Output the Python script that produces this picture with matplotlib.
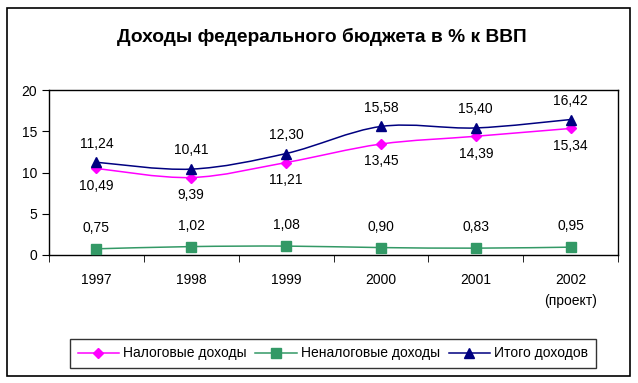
import matplotlib.pyplot as plt
from matplotlib.path import Path
from matplotlib.patches import PathPatch, Rectangle
from matplotlib.lines import Line2D

plt.rcParams['font.family'] = ['Liberation Sans', 'DejaVu Sans']

years = ['1997', '1998', '1999', '2000', '2001', '2002\n(проект)']
tax = [10.49, 9.39, 11.21, 13.45, 14.39, 15.34]
nontax = [0.75, 1.02, 1.08, 0.90, 0.83, 0.95]
total = [11.24, 10.41, 12.30, 15.58, 15.40, 16.42]


def smooth_path(xs, ys):
    # Bezier curve through the points, like Excel's smoothed line
    pts = list(zip(xs, ys))
    n = len(pts)
    verts = [pts[0]]
    codes = [Path.MOVETO]
    for i in range(n - 1):
        p0 = pts[max(i - 1, 0)]
        p1 = pts[i]
        p2 = pts[i + 1]
        p3 = pts[min(i + 2, n - 1)]
        c1 = (p1[0] + (p2[0] - p0[0]) / 6, p1[1] + (p2[1] - p0[1]) / 6)
        c2 = (p2[0] - (p3[0] - p1[0]) / 6, p2[1] - (p3[1] - p1[1]) / 6)
        verts += [c1, c2, p2]
        codes += [Path.CURVE4] * 3
    return Path(verts, codes)


fig = plt.figure(figsize=(6.38, 3.83), dpi=100)
ax = fig.add_axes([49 / 638, 1 - 255 / 383, (618 - 49) / 638, (255 - 90) / 383])

x = list(range(len(years)))
series = [
    (tax, 'Налоговые доходы', '#FF00FF', 'D', 5, -12.5),
    (nontax, 'Неналоговые доходы', '#339966', 's', 7, 15),
    (total, 'Итого доходов', '#000080', '^', 7, 13.5),
]
handles = []
for vals, name, col, mk, ms, off in series:
    ax.add_patch(PathPatch(smooth_path(x, vals), fill=False, edgecolor=col, lw=1.1))
    ax.plot(x, vals, linestyle='none', marker=mk, color=col, markersize=ms, zorder=3)
    for xi, v in zip(x, vals):
        ax.annotate(f'{v:.2f}'.replace('.', ','), (xi, v), xytext=(0, off),
                    textcoords='offset points', ha='center', va='center', fontsize=10)
    handles.append(Line2D([], [], color=col, marker=mk, markersize=ms, lw=1.1))

ax.set_xlim(-0.5, 5.5)
ax.set_ylim(0, 20)
ax.set_yticks([0, 5, 10, 15, 20])
ax.set_xticks(x)
ax.set_xticklabels(years, linespacing=1.6)
ax.set_xticks([i - 0.5 for i in range(len(years) + 1)], minor=True)
ax.tick_params(axis='x', which='major', length=0, pad=13, labelsize=10)
ax.tick_params(axis='x', which='minor', length=5, direction='out')
ax.tick_params(axis='y', length=5, direction='out', labelsize=10)
for s in ax.spines.values():
    s.set_linewidth(1)

fig.text(322 / 638, 1 - 37 / 383, 'Доходы федерального бюджета в % к ВВП',
         ha='center', va='center', fontsize=13.8, fontweight='bold')

leg = fig.legend(handles, [s[1] for s in series], loc='center',
                 bbox_to_anchor=(333 / 638, 1 - 353.5 / 383), ncol=3, fontsize=10,
                 frameon=True, fancybox=False, edgecolor='black',
                 handlelength=3, handletextpad=0.3, columnspacing=0.6,
                 borderpad=0.55)
leg.get_frame().set_linewidth(1)

fig.patches.append(Rectangle((7 / 638, 1 - 376 / 383), (630 - 7) / 638, (376 - 8) / 383,
                             transform=fig.transFigure, fill=False,
                             edgecolor='black', lw=1.2))

fig.savefig('out.png', dpi=100)
